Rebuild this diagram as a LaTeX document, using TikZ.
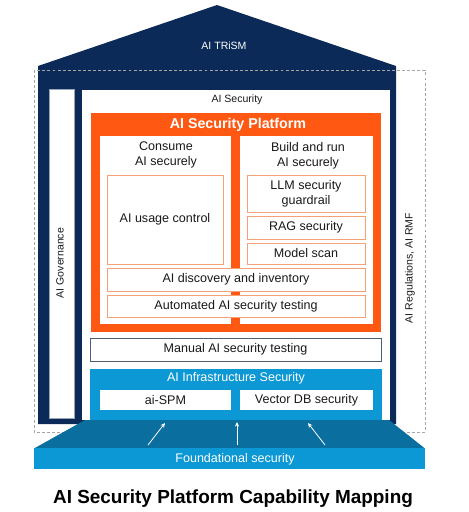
\documentclass[tikz,border=0pt]{standalone}
\usepackage{fontspec}
\setmainfont{Liberation Sans}
\usetikzlibrary{arrows.meta}
\definecolor{navy}{RGB}{12,42,88}
\definecolor{orng}{RGB}{255,88,18}
\definecolor{lorng}{RGB}{246,160,118}
\definecolor{infra}{RGB}{12,152,212}
\definecolor{found}{RGB}{10,110,158}
\definecolor{dashg}{RGB}{165,165,165}
\definecolor{txt}{RGB}{25,25,25}
\definecolor{govb}{RGB}{150,165,185}
\definecolor{manb}{RGB}{80,95,120}
\begin{document}
\begin{tikzpicture}[x=0.75pt,y=-0.75pt,
  rc/.style n args={4}{at={({(#1+#3)/2},{(#2+#4)/2})},
     minimum width={((#3)-(#1))*0.75pt}, minimum height={((#4)-(#2))*0.75pt}},
  bx/.style={rectangle, inner sep=0pt, outer sep=0pt},
  small/.style={font=\fontsize{7.9}{9.5}\selectfont},
  norm/.style={font=\fontsize{9.4}{11.25}\selectfont, text=txt, align=center},
  capbox/.style={bx, draw=lorng, line width=0.6pt, fill=white, norm},
  arr/.style={white, line width=0.6pt, -{Stealth[length=3.5pt,width=3.2pt]}}
]
\useasboundingbox (0,0) rectangle (469,512);
% house body and roof
\fill[navy] (38,66) -- (217,5) -- (396,66) -- (396,424) -- (38,424) -- cycle;
\node[small, text=white] (trism) at (224,46) {AI TRiSM};
% dashed regulation frame
\draw[dashg, dashed, dash pattern=on 2.2pt off 1.6pt, line width=0.7pt] (34,70) rectangle (425,432);
% governance pillar
\node[bx, rc={49}{89}{74}{418}, fill=white, draw=govb, line width=0.5pt] (gov) {};
\node[small, text=txt, rotate=90] (govt) at (60,263) {AI Governance};
\node[small, text=txt, rotate=90] (regt) at (410,268) {AI Regulations, AI RMF};
% AI security area
\node[bx, rc={82}{90}{390}{420}, fill=white] (sec) {};
\node[small, text=txt] (sect) at (237,100) {AI Security};
% platform
\node[bx, rc={91}{113}{381}{332}, fill=orng] (plat) {};
\node[font=\bfseries\fontsize{10.7}{12}\selectfont, text=white] (platt) at (238,125) {AI Security Platform};
\node[bx, rc={100}{136}{231}{324}, fill=white] (lcol) {};
\node[bx, rc={240}{136}{373}{324}, fill=white] (rcol) {};
\node[norm] (cons) at (166,155) {Consume\\AI securely};
\node[norm] (build) at (308,155.5) {Build and run\\AI securely};
\node[capbox, rc={107}{175}{223}{264}] (usage) {AI usage control};
\node[capbox, rc={247}{175}{365}{212}] (llm) {LLM security\\guardrail};
\node[capbox, rc={247}{216}{365}{239}] (rag) {RAG security};
\node[capbox, rc={247}{243}{365}{264}] (scan) {Model scan};
\node[capbox, rc={107}{268}{365}{291}] (disc) {AI discovery and inventory};
\node[capbox, rc={107}{295}{365}{317}] (auto) {Automated AI security testing};
% manual testing
\node[bx, rc={90}{338}{381}{361}, fill=white, draw=manb, line width=0.6pt, norm] (man) {Manual AI security testing};
% infrastructure
\node[bx, rc={90}{369}{382}{421}, fill=infra] (infra) {};
\node[norm, text=white] (infrat) at (236,378.5) {AI Infrastructure Security};
\node[bx, rc={100}{390}{231}{410}, fill=white, norm] (spm) {ai-SPM};
\node[bx, rc={240}{390}{373}{410}, fill=white, norm] (vdb) {Vector DB security};
% foundation
\fill[found] (85,420) -- (389,420) -- (425,448.5) -- (34,448.5) -- cycle;
\node[bx, rc={34}{448}{425}{469}, fill=infra] (fnd) {};
\node[norm, text=white] (fndt) at (235,459) {Foundational security};
% arrows
\coordinate (a1s) at (148,445); \coordinate (a1e) at (165,423);
\coordinate (a2s) at (237,445); \coordinate (a2e) at (237,422);
\coordinate (a3s) at (325,445); \coordinate (a3e) at (308,423);
\draw[arr] (a1s) -- (a1e);
\draw[arr] (a2s) -- (a2e);
\draw[arr] (a3s) -- (a3e);
% caption
\node[font=\bfseries\fontsize{14.2}{16}\selectfont, text=black] (title) at (233,498.5) {AI Security Platform Capability Mapping};
\end{tikzpicture}
\end{document}
